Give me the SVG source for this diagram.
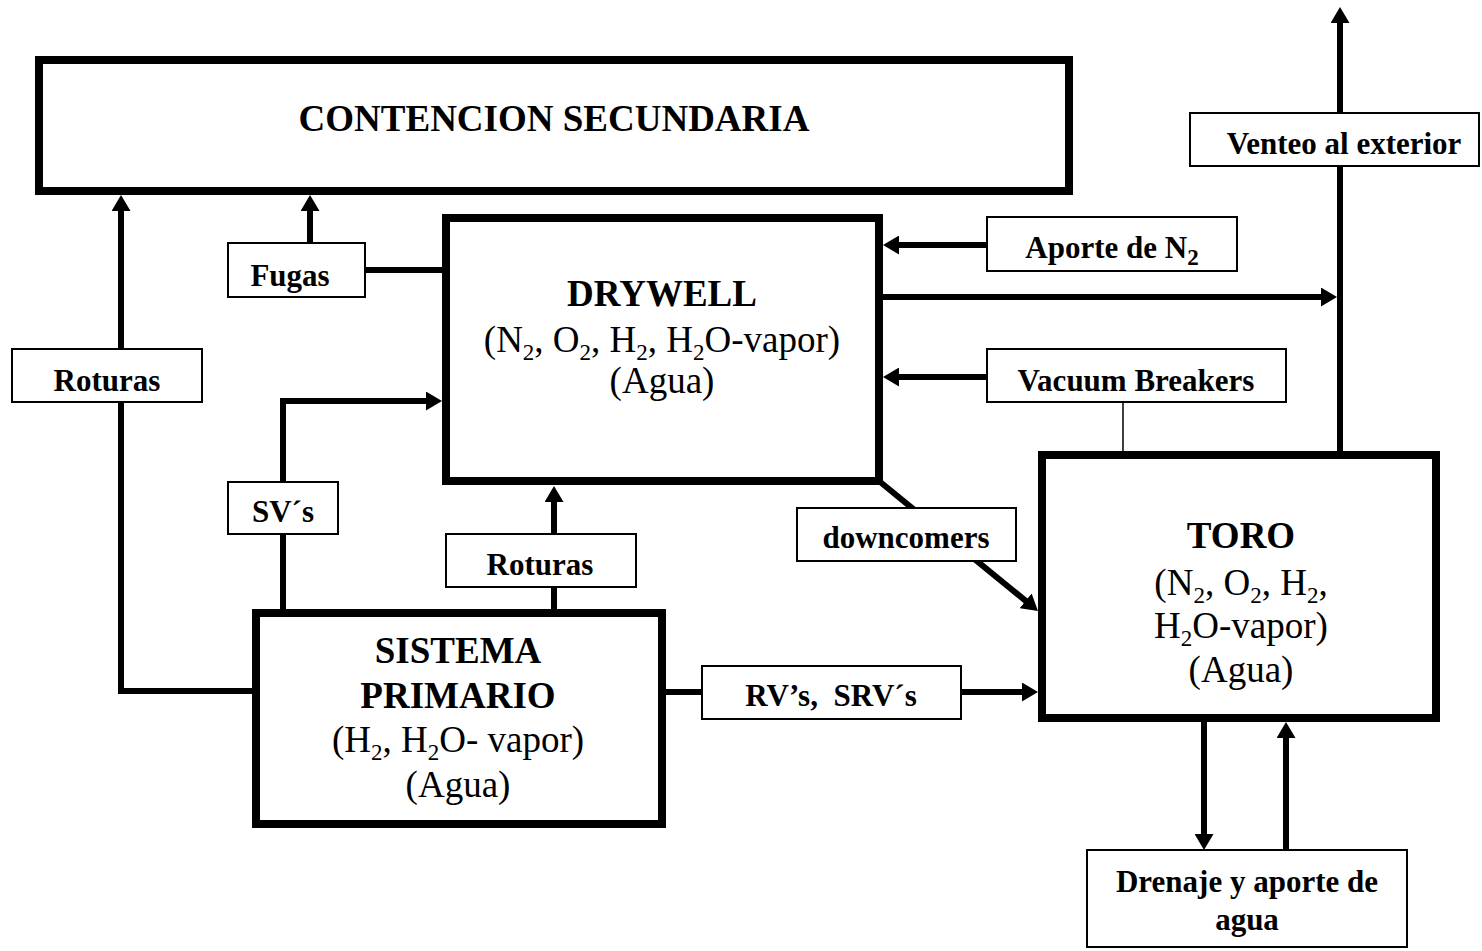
<svg xmlns="http://www.w3.org/2000/svg" width="1482" height="951" viewBox="0 0 1482 951">
<defs>
<marker id="ah" markerUnits="userSpaceOnUse" viewBox="0 0 16 19" markerWidth="16" markerHeight="19" refX="8" refY="9.5" orient="auto">
<path d="M0,0 L16,9.5 L0,19 z" fill="#000"/>
</marker>
<style>
.big{fill:#fff;stroke:#000;stroke-width:8}
.lbl{fill:#fff;stroke:#000;stroke-width:2}
.c{fill:none;stroke:#000;stroke-width:6}
.thin{fill:none;stroke:#000;stroke-width:1.5}
text{font-family:"Liberation Serif","Times New Roman",serif;fill:#000;text-anchor:middle}
.t{font-size:37px;font-weight:bold}
.b{font-size:37px}
.l{font-size:31px;font-weight:bold}
.s{font-size:23px}
</style>
</defs>
<rect width="1482" height="951" fill="#fff"/>
<g id="connectors">
<path class="c" d="M1340,455 V15" marker-end="url(#ah)"/>
<path class="c" d="M883,297 H1329" marker-end="url(#ah)"/>
<path class="c" d="M987,245 H891" marker-end="url(#ah)"/>
<path class="c" d="M987,377 H891" marker-end="url(#ah)"/>
<path class="thin" d="M1123,402 V455"/>
<path class="c" d="M879,481 L1031.8,605.9" marker-end="url(#ah)"/>
<path class="c" d="M662,692 H1030" marker-end="url(#ah)"/>
<path class="c" d="M252,691 H121 V203" marker-end="url(#ah)"/>
<path class="c" d="M310,243 V203" marker-end="url(#ah)"/>
<path class="c" d="M365,270 H446"/>
<path class="c" d="M283,613 V401 H434" marker-end="url(#ah)"/>
<path class="c" d="M554,613 V494" marker-end="url(#ah)"/>
<path class="c" d="M1204,722 V842" marker-end="url(#ah)"/>
<path class="c" d="M1286,850 V730" marker-end="url(#ah)"/>
</g>
<g id="contencion">
<rect class="big" x="39" y="60" width="1030" height="131"/>
<text class="t" x="554" y="131">CONTENCION SECUNDARIA</text>
</g>
<g id="drywell">
<rect class="big" x="446" y="218" width="433" height="263"/>
<text class="t" x="662" y="306">DRYWELL</text>
<text class="b" x="662" y="352">(N<tspan class="s" dy="8">2</tspan><tspan dy="-8">, O</tspan><tspan class="s" dy="8">2</tspan><tspan dy="-8">, H</tspan><tspan class="s" dy="8">2</tspan><tspan dy="-8">, H</tspan><tspan class="s" dy="8">2</tspan><tspan dy="-8">O-vapor)</tspan></text>
<text class="b" x="662" y="393">(Agua)</text>
</g>
<g id="toro">
<rect class="big" x="1042" y="455" width="394" height="263"/>
<text class="t" x="1241" y="548">TORO</text>
<text class="b" x="1241" y="595">(N<tspan class="s" dy="8">2</tspan><tspan dy="-8">, O</tspan><tspan class="s" dy="8">2</tspan><tspan dy="-8">, H</tspan><tspan class="s" dy="8">2</tspan><tspan dy="-8">,</tspan></text>
<text class="b" x="1241" y="638">H<tspan class="s" dy="8">2</tspan><tspan dy="-8">O-vapor)</tspan></text>
<text class="b" x="1241" y="682">(Agua)</text>
</g>
<g id="sistema">
<rect class="big" x="256" y="613" width="406" height="211"/>
<text class="t" x="458" y="663">SISTEMA</text>
<text class="t" x="458" y="708">PRIMARIO</text>
<text class="b" x="458" y="752">(H<tspan class="s" dy="8">2</tspan><tspan dy="-8">, H</tspan><tspan class="s" dy="8">2</tspan><tspan dy="-8">O- vapor)</tspan></text>
<text class="b" x="458" y="797">(Agua)</text>
</g>
<g id="fugas">
<rect class="lbl" x="228" y="243" width="137" height="54"/>
<text class="l" x="290" y="286">Fugas</text>
</g>
<g id="roturas-left">
<rect class="lbl" x="12" y="349" width="190" height="53"/>
<text class="l" x="107" y="391">Roturas</text>
</g>
<g id="svs">
<rect class="lbl" x="228" y="482" width="110" height="52"/>
<text class="l" x="283" y="522">SV´s</text>
</g>
<g id="roturas-mid">
<rect class="lbl" x="446" y="534" width="190" height="53"/>
<text class="l" x="540" y="575">Roturas</text>
</g>
<g id="aporte-n2">
<rect class="lbl" x="987" y="217" width="250" height="54"/>
<text class="l" x="1112" y="258">Aporte de N<tspan class="s" dy="7">2</tspan></text>
</g>
<g id="vacuum">
<rect class="lbl" x="987" y="349" width="299" height="53"/>
<text class="l" x="1136" y="391">Vacuum Breakers</text>
</g>
<g id="venteo">
<rect class="lbl" x="1190" y="113" width="289" height="53"/>
<text class="l" x="1344" y="154">Venteo al exterior</text>
</g>
<g id="downcomers">
<rect class="lbl" x="797" y="508" width="219" height="53"/>
<text class="l" x="906" y="548">downcomers</text>
</g>
<g id="rvs">
<rect class="lbl" x="702" y="666" width="259" height="53"/>
<text class="l" x="831" y="706" xml:space="preserve">RV’s,  SRV´s</text>
</g>
<g id="drenaje">
<rect class="lbl" x="1087" y="850" width="320" height="97"/>
<text class="l" x="1247" y="892">Drenaje y aporte de</text>
<text class="l" x="1247" y="930">agua</text>
</g>
</svg>
